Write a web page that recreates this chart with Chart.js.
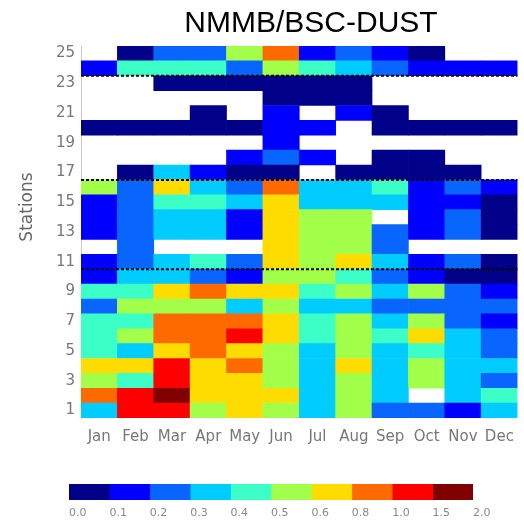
<!DOCTYPE html>
<html>
<head>
<meta charset="utf-8">
<title>NMMB/BSC-DUST</title>
<script src="https://cdn.jsdelivr.net/npm/chart.js@4.4.0/dist/chart.umd.min.js"></script>
<style>
  html, body { margin: 0; padding: 0; background: #fff; }
  #wrap { position: relative; width: 524px; height: 521px; }
  #heat { position: absolute; left: 0; top: 0; }
  #scale { position: absolute; left: 0; top: 470px; }
</style>
</head>
<body>
<div id="wrap">
  <canvas id="heat" width="524" height="470"></canvas>
  <canvas id="scale" width="524" height="51"></canvas>
</div>
<script>
const chartTitle = 'NMMB/BSC-DUST';
const yTitle = 'Stations';
const months = ['Jan', 'Feb', 'Mar', 'Apr', 'May', 'Jun', 'Jul', 'Aug', 'Sep', 'Oct', 'Nov', 'Dec'];
const stationTicks = [1, 3, 5, 7, 9, 11, 13, 15, 17, 19, 21, 23, 25];
const dividers = [10.5, 16.5, 23.5];

// values per month, station 1 .. 25 (null = no data)
const jan = [0.35, 0.9, 0.55, 0.7, 0.45, 0.45, 0.45, 0.25, 0.45, 0.15, 0.15, null, 0.15, 0.15, 0.15, 0.55, null, null, null, 0.05, null, null, null, 0.15, null];
const feb = [1.2, 1.2, 0.45, 0.7, 0.35, 0.55, 0.45, 0.55, 0.45, 0.35, 0.25, 0.25, 0.25, 0.25, 0.25, 0.25, 0.05, null, null, 0.05, null, null, null, 0.45, 0.05];
const mar = [1.2, 1.7, 1.2, 1.2, 0.7, 0.9, 0.9, 0.55, 0.7, 0.35, 0.35, null, 0.35, 0.35, 0.45, 0.7, 0.35, null, null, 0.05, null, null, 0.05, 0.45, 0.25];
const apr = [0.55, 0.7, 0.7, 0.7, 0.9, 0.9, 0.9, 0.55, 0.9, 0.25, 0.45, null, 0.35, 0.35, 0.45, 0.35, 0.15, null, null, 0.05, 0.05, null, 0.05, 0.45, 0.25];
const may = [0.7, 0.7, 0.7, 0.9, 0.7, 1.2, 0.9, 0.35, 0.7, 0.15, 0.25, null, 0.15, 0.15, 0.35, 0.25, 0.05, 0.15, null, 0.05, null, null, 0.05, 0.25, 0.55];
const jun = [0.55, 0.7, 0.55, 0.55, 0.55, 0.7, 0.7, 0.55, 0.7, 0.55, 0.7, 0.7, 0.7, 0.7, 0.7, 0.9, 0.05, 0.25, 0.15, 0.15, 0.15, 0.05, 0.05, 0.55, 0.9];
const jul = [0.35, 0.35, 0.35, 0.35, 0.35, 0.45, 0.45, 0.35, 0.45, 0.55, 0.55, 0.55, 0.55, 0.55, 0.35, 0.35, null, 0.15, null, 0.15, null, 0.05, 0.05, 0.45, 0.15];
const aug = [0.55, 0.55, 0.55, 0.7, 0.55, 0.55, 0.55, 0.35, 0.55, 0.45, 0.7, 0.55, 0.55, 0.55, 0.35, 0.35, 0.05, null, null, null, 0.15, 0.05, 0.05, 0.35, 0.25];
const sep = [0.25, 0.35, 0.35, 0.35, 0.35, 0.45, 0.35, 0.25, 0.35, 0.25, 0.35, 0.25, 0.25, null, 0.35, 0.45, 0.05, 0.05, null, 0.05, 0.05, null, null, 0.25, 0.15];
const oct = [0.25, null, 0.55, 0.55, 0.45, 0.7, 0.55, 0.25, 0.55, 0.15, 0.15, null, 0.15, 0.15, 0.15, 0.15, 0.05, 0.05, null, 0.05, null, null, null, 0.15, 0.05];
const nov = [0.15, 0.35, 0.35, 0.35, 0.35, 0.35, 0.25, 0.25, 0.25, 0.05, 0.25, null, 0.25, 0.25, 0.15, 0.25, 0.05, null, null, 0.05, null, null, null, 0.15, null];
const dec = [0.35, 0.45, 0.25, 0.35, 0.25, 0.25, 0.15, 0.25, 0.15, 0.05, 0.05, null, 0.05, 0.05, 0.05, 0.15, null, null, null, 0.05, null, null, null, 0.15, null];
const series = [jan, feb, mar, apr, may, jun, jul, aug, sep, oct, nov, dec];

// colour bar
const levels = [0.0, 0.1, 0.2, 0.3, 0.4, 0.5, 0.6, 0.8, 1.0, 1.5, 2.0];
const levelLabels = ['0.0', '0.1', '0.2', '0.3', '0.4', '0.5', '0.6', '0.8', '1.0', '1.5', '2.0'];
const palette = ['#000088', '#0000ff', '#0866ff', '#00ccff', '#3cffc8', '#a2ff4a', '#ffdc00', '#ff6a00', '#ff0000', '#800000'];

function colorFor(v) {
    if (v == null) return 'rgba(0,0,0,0)';
    for (let i = 0; i < palette.length; i++) {
        if (v < levels[i + 1]) return palette[i];
    }
    return palette[palette.length - 1];
}

Chart.defaults.font.family = '"DejaVu Sans", sans-serif';
Chart.defaults.animation = false;

const stationCount = jan.length;
const cellSets = [];
for (let s = 1; s <= stationCount; s++) {
    cellSets.push({
        type: 'bar',
        label: 'Station ' + s,
        data: series.map(m => (m[s - 1] == null ? null : [s - 0.5, s + 0.5])),
        backgroundColor: series.map(m => colorFor(m[s - 1])),
        borderWidth: 0,
        grouped: false,
        barPercentage: 1,
        categoryPercentage: 1,
        order: 1
    });
}

const lineSets = dividers.map(d => ({
    type: 'line',
    xAxisID: 'x2',
    data: [{x: 0.5, y: d}, {x: 12.5, y: d}],
    borderColor: '#000',
    borderWidth: 2,
    borderDash: [3, 2],
    pointRadius: 0,
    order: 0
}));

const textPlugin = {
    id: 'texts',
    afterDraw(chart) {
        const ctx = chart.ctx;
        ctx.save();
        ctx.fillStyle = '#000';
        ctx.font = '30px "Liberation Sans", Arial, sans-serif';
        ctx.textAlign = 'center';
        ctx.textBaseline = 'alphabetic';
        ctx.fillText(chartTitle, 311, 32);

        ctx.translate(28, 207);
        ctx.rotate(-Math.PI / 2);
        ctx.fillStyle = '#666';
        ctx.font = '17px "DejaVu Sans", sans-serif';
        ctx.textBaseline = 'middle';
        ctx.fillText(yTitle, 0, 0);
        ctx.restore();
    }
};

new Chart(document.getElementById('heat'), {
    type: 'bar',
    data: {
        labels: months,
        datasets: [...lineSets, ...cellSets]
    },
    options: {
        responsive: false,
        events: [],
        layout: {padding: {top: 46, right: 3, left: 0, bottom: 0}},
        plugins: {
            legend: {display: false},
            tooltip: {enabled: false}
        },
        scales: {
            x: {
                type: 'category',
                grid: {display: false, drawTicks: false},
                border: {display: false},
                ticks: {color: '#777', font: {size: 15}, padding: 10, maxRotation: 0, autoSkip: false},
                afterFit: s => { s.height = 52; }
            },
            x2: {
                type: 'linear',
                display: false,
                offset: false,
                min: 0.5,
                max: 12.5
            },
            y: {
                type: 'linear',
                min: 0.5,
                max: 25.5,
                grid: {display: false, drawTicks: false},
                border: {display: true, color: '#c8c8c8', width: 1},
                afterBuildTicks: s => { s.ticks = stationTicks.map(v => ({value: v})); },
                ticks: {color: '#777', font: {size: 15}, padding: 6},
                afterFit: s => { s.width = 81; }
            }
        }
    },
    plugins: [textPlugin]
});

new Chart(document.getElementById('scale'), {
    type: 'bar',
    data: {
        labels: [''],
        datasets: palette.map((c, i) => ({
            data: [[i, i + 1]],
            backgroundColor: c,
            borderWidth: 0,
            grouped: false,
            barPercentage: 1,
            categoryPercentage: 1
        }))
    },
    options: {
        responsive: false,
        events: [],
        indexAxis: 'y',
        layout: {padding: {top: 14, left: 69, right: 51, bottom: 0}},
        plugins: {
            legend: {display: false},
            tooltip: {enabled: false}
        },
        scales: {
            x: {
                type: 'linear',
                min: 0,
                max: palette.length,
                grid: {display: false, drawTicks: false},
                border: {display: false},
                afterBuildTicks: s => { s.ticks = levelLabels.map((t, i) => ({value: i})); },
                ticks: {
                    callback: (v, i) => levelLabels[i],
                    align: 'start',
                    color: '#888',
                    font: {size: 11},
                    padding: 7,
                    autoSkip: false,
                    maxRotation: 0
                },
                afterFit: s => { s.height = 21; }
            },
            y: {display: false}
        }
    }
});
</script>
</body>
</html>
